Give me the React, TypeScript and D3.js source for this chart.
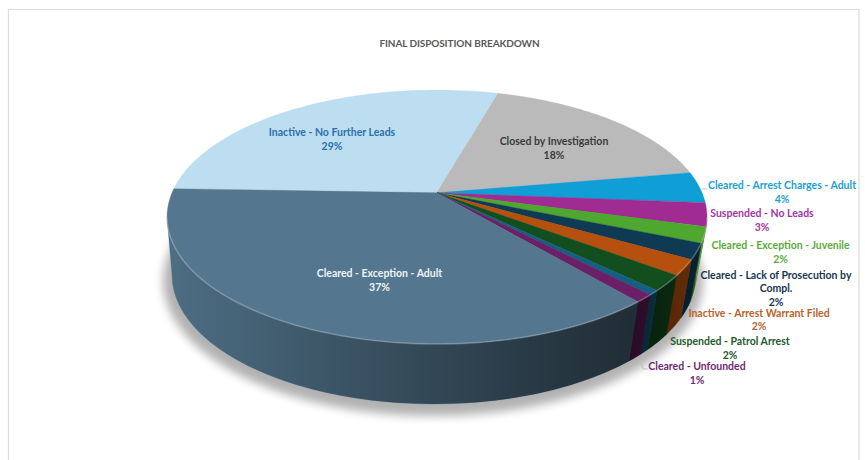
import React from "react";
import * as d3 from "d3";

// Final disposition shares, in percent, clockwise from the left edge of the disc.
const categories = [
  "Inactive - No Further Leads",
  "Closed by Investigation",
  "Cleared - Arrest Charges - Adult",
  "Suspended - No Leads",
  "Cleared - Exception - Juvenile",
  "Cleared - Lack of Prosecution by Compl.",
  "Inactive - Arrest Warrant Filed",
  "Suspended - Patrol Arrest",
  "Other",
  "Cleared - Unfounded",
  "Cleared - Exception - Adult",
];
const shares = [29, 18, 4, 3, 2, 2, 2, 2, 0.6, 1, 37];

const sliceColors = [
  "#bcdef0", "#bababa", "#0f9ed5", "#a02b93", "#4ea72e", "#0e3a54",
  "#b5500f", "#134f1e", "#156082", "#6b1f66", "#54778f",
];

// Label placement: centre x, first baseline, text colour and wrapped lines.
const labelSpots = [
  { x: 332, y: 136, color: "#2f6fab" },
  { x: 554, y: 145, color: "#3a3a3a" },
  { x: 782, y: 189, color: "#1d9ed4" },
  { x: 762, y: 217, color: "#a535a0" },
  { x: 780.5, y: 249, color: "#5aab3a" },
  { x: 776, y: 278.5, color: "#17374f" },
  { x: 759, y: 316.5, color: "#b8622a" },
  { x: 730, y: 345, color: "#1f5a2a" },
  null,
  { x: 697, y: 370, color: "#6f2a70" },
  { x: 379.5, y: 277, color: "#eef3f6" },
];
const wrappedNames: Record<string, string[]> = {
  "Cleared - Lack of Prosecution by Compl.": ["Cleared - Lack of Prosecution by", "Compl."],
};

const leaderLines = [
  [[702, 189], [707, 189]],
  [[662, 344], [668, 344]],
  [[640, 360], [643, 369], [648, 369]],
];

const WIDTH = 865;
const HEIGHT = 460;
const TOP = { cx: 437, cy: 217, rx: 270, ry: 127 };
const BASE = { cx: 434, cy: 275, rx: 262, ry: 129 };
// Perspective shift of the disc centre on the top ellipse.
const TILT = -0.19;
const START = (-88 * Math.PI) / 180;
const FONT = "Lato, 'Open Sans', sans-serif";

const apex: [number, number] = [TOP.cx, TOP.cy + TOP.ry * TILT];

// Projects a clockwise-from-north disc angle to the rim of the tilted top ellipse.
function rimPoint(angle: number): [number, number] {
  const u = Math.sin(angle);
  const v = -Math.cos(angle);
  const d = 1 + TILT * v;
  return [
    TOP.cx + (TOP.rx * u * Math.sqrt(1 - TILT * TILT)) / d,
    TOP.cy + (TOP.ry * (v + TILT)) / d,
  ];
}

// Ellipse parameter of a rim angle, kept monotonic over the pie's sweep.
function rimParam(angle: number): number {
  const wrapped = angle < 0 ? angle + 2 * Math.PI : angle;
  const [x, y] = rimPoint(wrapped);
  let t = Math.atan2((y - TOP.cy) / TOP.ry, (x - TOP.cx) / TOP.rx);
  if (t < -Math.PI / 2) t += 2 * Math.PI;
  return angle < 0 ? t - 2 * Math.PI : t;
}

const linePath = d3.line<[number, number]>().x((d) => d[0]).y((d) => d[1]);

function wallPath(lo: number, hi: number): string {
  const steps = d3.range(0, 41).map((i) => lo + ((hi - lo) * i) / 40);
  const upper = steps.map(
    (t): [number, number] => [TOP.cx + TOP.rx * Math.cos(t), TOP.cy + TOP.ry * Math.sin(t)]
  );
  const lower = steps
    .slice()
    .reverse()
    .map((t): [number, number] => [BASE.cx + BASE.rx * Math.cos(t), BASE.cy + BASE.ry * Math.sin(t)]);
  return linePath([...upper, ...lower])! + "Z";
}

export default function App() {
  const arcs = d3
    .pie<number>()
    .sort(null)
    .startAngle(START)
    .endAngle(START + 2 * Math.PI)(shares);

  const topPaths = arcs.map((a) => {
    const n = 60;
    const rim = d3.range(0, n + 1).map((i) => rimPoint(a.startAngle + ((a.endAngle - a.startAngle) * i) / n));
    return linePath([apex, ...rim])! + "Z";
  });

  const walls = arcs.map((a, i) => {
    const lo = Math.max(0, rimParam(a.startAngle));
    const hi = Math.min(Math.PI, rimParam(a.endAngle));
    return lo < hi ? { i, d: wallPath(lo, hi) } : null;
  });

  const frontRim = d3.range(0, 81).map(
    (i): [number, number] => {
      const t = (Math.PI * i) / 80;
      return [TOP.cx + TOP.rx * Math.cos(t), TOP.cy + TOP.ry * Math.sin(t)];
    }
  );

  return (
    <svg
      width={WIDTH}
      height={HEIGHT}
      viewBox={`0 0 ${WIDTH} ${HEIGHT}`}
      style={{ position: "absolute", left: 0, top: 0, background: "#fff" }}
    >
      <defs>
        <filter id="soft" x="-20%" y="-20%" width="140%" height="140%">
          <feGaussianBlur stdDeviation="5" />
        </filter>
        <filter id="rimSoft" x="-5%" y="-5%" width="110%" height="110%">
          <feGaussianBlur stdDeviation="0.7" />
        </filter>
        <linearGradient id="wallShade" gradientUnits="userSpaceOnUse" x1="167" x2="707" y1="0" y2="0">
          <stop offset="0" stopColor="#000" stopOpacity="0.08" />
          <stop offset="0.33" stopColor="#000" stopOpacity="0.3" />
          <stop offset="0.62" stopColor="#000" stopOpacity="0.48" />
          <stop offset="0.86" stopColor="#000" stopOpacity="0.62" />
          <stop offset="1" stopColor="#000" stopOpacity="0.4" />
        </linearGradient>
      </defs>

      <path d={`M8.5 460V9.5H859V460`} fill="none" stroke="#dcdcdc" strokeWidth={1.2} />

      <text
        x={459.5}
        y={47}
        textAnchor="middle"
        fontFamily={FONT}
        fontWeight={700}
        fontSize={10}
        letterSpacing={-0.1}
        fill="#595959"
      >
        FINAL DISPOSITION BREAKDOWN
      </text>

      <ellipse
        cx={BASE.cx - 1}
        cy={BASE.cy + 6}
        rx={BASE.rx + 8}
        ry={BASE.ry + 6}
        fill="#000"
        opacity={0.3}
        filter="url(#soft)"
      />

      {walls.map((w) => (w ? <path key={w.i} d={w.d} fill={sliceColors[w.i]} stroke={sliceColors[w.i]} strokeWidth={0.3} /> : null))}
      <path d={wallPath(0, Math.PI)} fill="url(#wallShade)" />

      {topPaths.map((d, i) => (
        <path key={categories[i]} d={d} fill={sliceColors[i]} stroke={sliceColors[i]} strokeWidth={0.3} />
      ))}
      <path
        d={linePath(frontRim)!}
        fill="none"
        stroke="#fff"
        strokeOpacity={0.22}
        strokeWidth={1.6}
        filter="url(#rimSoft)"
      />

      {leaderLines.map((pts, i) => (
        <path key={i} d={linePath(pts as [number, number][])!} fill="none" stroke="#bfbfbf" strokeWidth={1} />
      ))}

      {labelSpots.map((spot, i) => {
        if (!spot) return null;
        const lines = [...(wrappedNames[categories[i]] ?? [categories[i]]), `${shares[i]}%`];
        return (
          <text
            key={categories[i]}
            x={spot.x}
            y={spot.y}
            textAnchor="middle"
            fontFamily={FONT}
            fontWeight={700}
            fontSize={10.5}
            fill={spot.color}
          >
            {lines.map((line, k) => (
              <tspan key={k} x={spot.x} dy={k === 0 ? 0 : 13.6}>
                {line}
              </tspan>
            ))}
          </text>
        );
      })}
    </svg>
  );
}
